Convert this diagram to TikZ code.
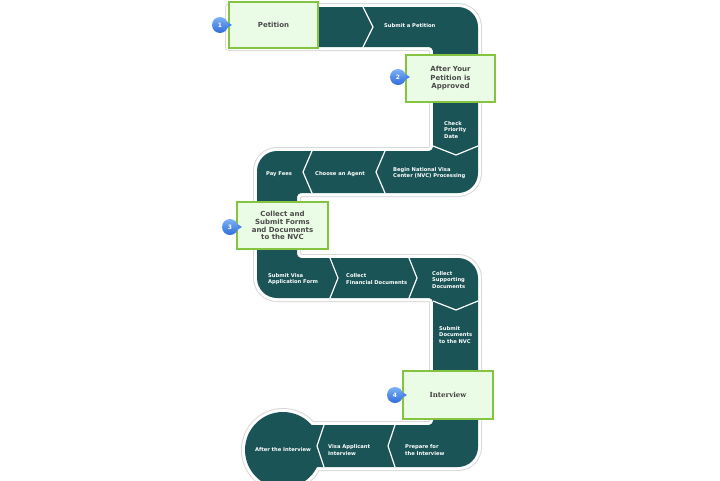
\documentclass[tikz,border=0pt]{standalone}
\usepackage{fontspec}
\setmainfont{DejaVu Sans}
\newfontfamily\serifbold{DejaVu Serif}
\definecolor{teal}{HTML}{1B5456}
\definecolor{boxfill}{HTML}{EBFCE6}
\definecolor{boxgreen}{HTML}{84C441}
\definecolor{boxtxt}{HTML}{4A4A4A}
\definecolor{badgetop}{HTML}{7DB2F7}
\definecolor{badgebot}{HTML}{2E6CD8}
\definecolor{badgemid}{HTML}{4A88E8}
\definecolor{rim}{HTML}{D9D9D9}
\tikzset{
  bandtxt/.style={text=white, font=\fontsize{5.2}{6.5}\selectfont\bfseries, align=left, anchor=west, inner sep=0pt},
  stepbox/.style={draw=boxgreen, line width=2pt, fill=boxfill, text=boxtxt, font=\fontsize{7}{8.5}\selectfont\bfseries, align=center, inner sep=0pt},
  chev/.style={draw=white, line width=1.2pt, line join=miter},
  badge/.style={circle, minimum size=16pt, inner sep=0pt, top color=badgetop, bottom color=badgebot, text=white, font=\fontsize{6}{6}\selectfont\bfseries},
  pointer/.style={fill=badgemid},
  rimouter/.style={draw=rim, line width=8pt, line join=round},
  riminner/.style={draw=white, line width=6pt, line join=round},
}
\begin{document}
\begin{tikzpicture}[x=1pt,y=-1pt]
\useasboundingbox (0,0) rectangle (720,480);
\def\bandpath{(229,7) -- (458,7) .. controls (469,7) and (478,16) .. (478,27)
 -- (478,173) .. controls (478,184) and (469,193) .. (458,193)
 -- (301,193) .. controls (299,193) and (297,195) .. (297,197)
 -- (297,254) .. controls (297,256) and (299,258) .. (301,258)
 -- (458,258) .. controls (469,258) and (478,267) .. (478,278)
 -- (478,447) .. controls (478,458) and (469,467) .. (458,467)
 -- (290,467) -- (290,425)
 -- (429,425) .. controls (431,425) and (433,423) .. (433,421)
 -- (433,302) .. controls (433,300) and (431,298) .. (429,298)
 -- (277,298) .. controls (266,298) and (257,289) .. (257,278)
 -- (257,171) .. controls (257,160) and (266,151) .. (277,151)
 -- (429,151) .. controls (431,151) and (433,149) .. (433,147)
 -- (433,51) .. controls (433,49) and (431,47) .. (429,47)
 -- (229,47) -- cycle}
% rim
\path[rimouter] \bandpath;
\path[rimouter] (283,450) circle (38pt);
\path[riminner] \bandpath;
\path[riminner] (283,450) circle (38pt);
% band
\fill[teal] \bandpath;
\fill[teal] (283,450) circle (38pt);
% chevrons
\draw[chev] (363,7) -- (373,27) -- (363,47);
\draw[chev] (433,146) -- (456,155) -- (478,146);
\draw[chev] (385,151) -- (376,172) -- (385,193);
\draw[chev] (312,151) -- (303,172) -- (312,193);
\draw[chev] (330,258) -- (338,278) -- (330,298);
\draw[chev] (409,258) -- (417,278) -- (409,298);
\draw[chev] (433,301) -- (456,310) -- (478,301);
\draw[chev] (395,425) -- (388,446) -- (395,467);
\draw[chev] (324,425) -- (317,446) -- (324,467);
% band texts
\node[bandtxt] (s1) at (384,26) {Submit a Petition};
\node[bandtxt] (s2) at (444,130) {Check\\Priority\\Date};
\node[bandtxt] (s3) at (393,173) {Begin National Visa\\Center (NVC) Processing};
\node[bandtxt] (s4) at (315,174) {Choose an Agent};
\node[bandtxt] (s5) at (266,174) {Pay Fees};
\node[bandtxt] (s6) at (268,279) {Submit Visa\\Application Form};
\node[bandtxt] (s7) at (346,279) {Collect\\Financial Documents};
\node[bandtxt] (s8) at (432,280) {Collect\\Supporting\\Documents};
\node[bandtxt] (s9) at (439,335) {Submit\\Documents\\to the NVC};
\node[bandtxt] (s10) at (405,450) {Prepare for\\the Interview};
\node[bandtxt] (s11) at (328,450) {Visa Applicant\\Interview};
\node[bandtxt, anchor=center] (s12) at (283,450) {After the Interview};
% boxes
\node[stepbox, minimum width=89pt, minimum height=46pt] (box1) at (273.5,25) {Petition};
\node[stepbox, minimum width=89pt, minimum height=47pt] (box2) at (450.5,78.5) {After Your\\Petition is\\Approved};
\node[stepbox, minimum width=91pt, minimum height=47pt, font=\fontsize{7}{7.8}\selectfont\bfseries] (box3) at (282.5,225.5) {Collect and\\Submit Forms\\and Documents\\to the NVC};
\node[stepbox, minimum width=90pt, minimum height=48pt, font=\fontsize{7}{8.5}\selectfont\serifbold\bfseries, text=black!75] (box4) at (448,395) {Interview};
% badges
\foreach \n/\cx/\cy in {1/220/25, 2/398/77, 3/230/227, 4/395/395}{
  \fill[pointer] (\cx+4,\cy-5) -- (\cx+12,\cy) -- (\cx+4,\cy+5) -- cycle;
  \node[badge] (b\n) at (\cx,\cy) {\n};
}
\end{tikzpicture}
\end{document}
